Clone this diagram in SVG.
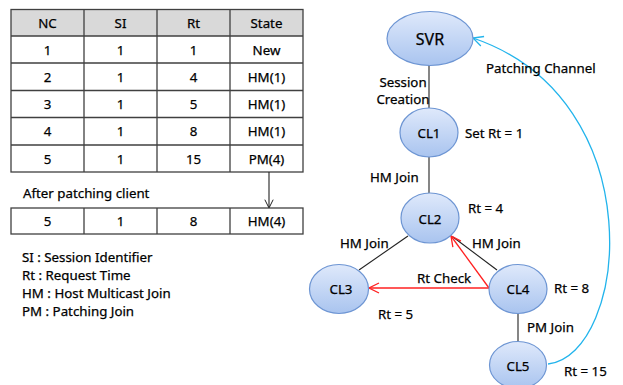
<svg xmlns="http://www.w3.org/2000/svg" width="623" height="385" viewBox="0 0 623 385">
  <style>
    text { font-family: "Noto Sans", "Open Sans", "DejaVu Sans", sans-serif; font-size: 13.3px; fill: #000; stroke: #000; stroke-width: 0.25; }
    .c { text-anchor: middle; dominant-baseline: central; }
    .grid { fill: none; stroke: #404040; stroke-width: 1.3; }
    .node { fill: url(#nodeFill); stroke: #6d95d3; stroke-width: 1.2; }
    .link { stroke: #222; stroke-width: 1.1; fill: none; }
    .check { stroke: #ff2020; stroke-width: 1.3; fill: none; marker-end: url(#redHead); }
    .patch { stroke: #22b4ec; stroke-width: 1.3; fill: none; marker-end: url(#blueHead); }
  </style>
  <defs>
    <linearGradient id="nodeFill" x1="0" y1="0" x2="0" y2="1">
      <stop offset="0" stop-color="#dfe9fb"/>
      <stop offset="1" stop-color="#a9c4ef"/>
    </linearGradient>
    <marker id="redHead" viewBox="0 0 12 12" refX="11" refY="6" markerWidth="12" markerHeight="12" markerUnits="userSpaceOnUse" orient="auto">
      <path d="M1,1 L11,6 L1,11" fill="none" stroke="#ff2020" stroke-width="1.3"/>
    </marker>
    <marker id="blueHead" viewBox="0 0 12 12" refX="11" refY="6" markerWidth="12" markerHeight="12" markerUnits="userSpaceOnUse" orient="auto">
      <path d="M1,1 L11,6 L1,11" fill="none" stroke="#22b4ec" stroke-width="1.3"/>
    </marker>
    <marker id="blackHead" viewBox="0 0 12 12" refX="11" refY="6" markerWidth="10" markerHeight="10" markerUnits="userSpaceOnUse" orient="auto">
      <path d="M1,1 L11,6 L1,11" fill="none" stroke="#222" stroke-width="1.2"/>
    </marker>
  </defs>

  <rect width="623" height="385" fill="#ffffff"/>

  <!-- session table -->
  <g id="table">
    <rect x="11" y="9.5" width="292" height="26.5" fill="#d9d9d9"/>
    <rect class="grid" x="11" y="9.5" width="292" height="162.5"/>
    <path class="grid" d="M11,36 H303 M11,63 H303 M11,90.5 H303 M11,117.5 H303 M11,145 H303 M84,9.5 V172 M157,9.5 V172 M230,9.5 V172"/>
    <g class="c">
      <text x="47.5" y="22.5" class="c">NC</text><text x="120.5" y="22.5" class="c">SI</text><text x="193.5" y="22.5" class="c">Rt</text><text x="266.5" y="22.5" class="c">State</text>
      <text x="47.5" y="50" class="c">1</text><text x="120.5" y="50" class="c">1</text><text x="193.5" y="50" class="c">1</text><text x="266.5" y="50" class="c">New</text>
      <text x="47.5" y="77" class="c">2</text><text x="120.5" y="77" class="c">1</text><text x="193.5" y="77" class="c">4</text><text x="266.5" y="77" class="c">HM(1)</text>
      <text x="47.5" y="104" class="c">3</text><text x="120.5" y="104" class="c">1</text><text x="193.5" y="104" class="c">5</text><text x="266.5" y="104" class="c">HM(1)</text>
      <text x="47.5" y="131" class="c">4</text><text x="120.5" y="131" class="c">1</text><text x="193.5" y="131" class="c">8</text><text x="266.5" y="131" class="c">HM(1)</text>
      <text x="47.5" y="158.5" class="c">5</text><text x="120.5" y="158.5" class="c">1</text><text x="193.5" y="158.5" class="c">15</text><text x="266.5" y="158.5" class="c">PM(4)</text>
    </g>
  </g>

  <!-- table after patching -->
  <g id="table-after">
    <text x="23" y="193" dominant-baseline="central">After patching client</text>
    <line x1="269" y1="172" x2="269" y2="208" class="link" marker-end="url(#blackHead)"/>
    <rect class="grid" x="11" y="208" width="292" height="26"/>
    <path class="grid" d="M84,208 V234 M157,208 V234 M230,208 V234"/>
    <text x="47.5" y="221" class="c">5</text><text x="120.5" y="221" class="c">1</text><text x="193.5" y="221" class="c">8</text><text x="266.5" y="221" class="c">HM(4)</text>
  </g>

  <!-- legend -->
  <g id="legend">
    <text x="22" y="257" dominant-baseline="central">SI : Session Identifier</text>
    <text x="22" y="275" dominant-baseline="central">Rt : Request Time</text>
    <text x="22" y="293" dominant-baseline="central">HM : Host Multicast Join</text>
    <text x="22" y="311" dominant-baseline="central">PM : Patching Join</text>
  </g>

  <!-- connectors -->
  <g id="connectors">
    <line class="link" x1="429" y1="65" x2="429" y2="108"/>
    <line class="link" x1="429" y1="157" x2="429" y2="193"/>
    <line class="link" x1="408" y1="236" x2="359" y2="270"/>
    <line class="link" x1="453" y1="237" x2="497" y2="270"/>
    <line class="link" x1="518" y1="313" x2="518" y2="341"/>
    <path class="check" d="M489,288 L369,288"/>
    <path class="check" d="M489,288 L451,236"/>
    <path class="patch" d="M548,364 C628,355 655,100 473,38"/>
  </g>

  <!-- edge labels -->
  <g id="labels">
    <text x="403" y="82" class="c">Session</text>
    <text x="403" y="99" class="c">Creation</text>
    <text x="486" y="68" dominant-baseline="central">Patching Channel</text>
    <text x="465" y="133" dominant-baseline="central">Set Rt = 1</text>
    <text x="370" y="177" dominant-baseline="central">HM Join</text>
    <text x="468" y="208" dominant-baseline="central">Rt = 4</text>
    <text x="340" y="243" dominant-baseline="central">HM Join</text>
    <text x="472" y="243" dominant-baseline="central">HM Join</text>
    <text x="417" y="278" dominant-baseline="central">Rt Check</text>
    <text x="554" y="288" dominant-baseline="central">Rt = 8</text>
    <text x="378" y="314" dominant-baseline="central">Rt = 5</text>
    <text x="527" y="327" dominant-baseline="central">PM Join</text>
    <text x="564" y="371" dominant-baseline="central">Rt = 15</text>
  </g>

  <!-- nodes -->
  <g id="SVR"><ellipse class="node" cx="430" cy="38.5" rx="43" ry="27"/><text x="430" y="39" class="c" style="font-size:16px">SVR</text></g>
  <g id="CL1"><ellipse class="node" cx="429" cy="132.5" rx="29" ry="24.5"/><text x="429" y="133" class="c">CL1</text></g>
  <g id="CL2"><ellipse class="node" cx="430" cy="218" rx="29" ry="25"/><text x="430" y="219" class="c">CL2</text></g>
  <g id="CL3"><ellipse class="node" cx="339" cy="289" rx="29.5" ry="24.5"/><text x="341" y="289" class="c">CL3</text></g>
  <g id="CL4"><ellipse class="node" cx="518" cy="289" rx="29" ry="24.5"/><text x="518" y="289" class="c">CL4</text></g>
  <g id="CL5"><ellipse class="node" cx="518" cy="365" rx="28.5" ry="23.5"/><text x="518" y="366" class="c">CL5</text></g>
</svg>
